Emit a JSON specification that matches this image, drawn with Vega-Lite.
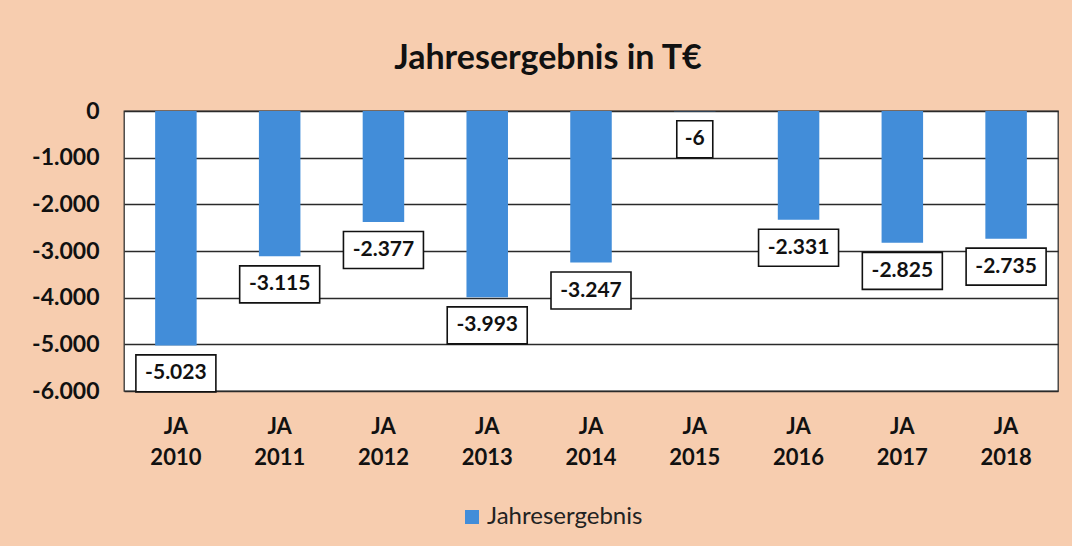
{
  "$schema": "https://vega.github.io/schema/vega-lite/v6.json",
  "autosize": {"type": "none"},
  "width": 934,
  "height": 280,
  "padding": {"left": 124, "top": 111, "right": 14, "bottom": 155},
  "background": "#F7CDAF",
  "title": {
    "text": "Jahresergebnis in T€",
    "font": "Lato",
    "fontSize": 34,
    "fontWeight": "bold",
    "color": "#111111",
    "anchor": "middle",
    "frame": "group",
    "dx": -43,
    "offset": 24
  },
  "config": {
    "locale": {"number": {"decimal": ",", "thousands": ".", "grouping": [3], "currency": ["", " €"], "minus": "-"}},
    "view": {"fill": "white", "stroke": "#333333", "strokeWidth": 1.3},
    "font": "Lato"
  },
  "data": {
    "values": [
      {"year": "2010", "value": -5023},
      {"year": "2011", "value": -3115},
      {"year": "2012", "value": -2377},
      {"year": "2013", "value": -3993},
      {"year": "2014", "value": -3247},
      {"year": "2015", "value": -6},
      {"year": "2016", "value": -2331},
      {"year": "2017", "value": -2825},
      {"year": "2018", "value": -2735}
    ]
  },
  "encoding": {
    "x": {
      "field": "year",
      "type": "nominal",
      "sort": null,
      "scale": {"paddingInner": 0.6, "paddingOuter": 0.3},
      "axis": {
        "title": null,
        "labelAngle": 0,
        "domain": false,
        "ticks": false,
        "labelExpr": "['JA', datum.value]",
        "labelFont": "Lato",
        "labelFontSize": 22,
        "labelFontWeight": "bold",
        "labelColor": "#111111",
        "labelPadding": 25,
        "labelLineHeight": 31
      }
    },
    "y": {
      "field": "value",
      "type": "quantitative",
      "scale": {"domain": [-6000, 0], "nice": false},
      "axis": {
        "title": null,
        "values": [-6000, -5000, -4000, -3000, -2000, -1000, 0],
        "format": ",d",
        "domain": false,
        "ticks": false,
        "grid": true,
        "gridColor": "#2a2a2a",
        "gridWidth": 1.4,
        "labelFont": "Lato",
        "labelFontSize": 23,
        "labelFontWeight": "bold",
        "labelColor": "#111111",
        "labelPadding": 25
      }
    }
  },
  "layer": [
    {
      "mark": {"type": "bar"},
      "encoding": {
        "y2": {"datum": 0},
        "color": {
          "datum": "Jahresergebnis",
          "scale": {"range": ["#428DD9"]},
          "legend": {
            "title": null,
            "orient": "none",
            "legendX": 336,
            "legendY": 394,
            "symbolType": "square",
            "symbolSize": 196,
            "labelFont": "Lato",
            "labelFontSize": 24,
            "labelColor": "#222222",
            "labelOffset": 3
          }
        }
      }
    },
    {
      "mark": {"type": "point", "filled": true, "fill": "white", "stroke": "#111111", "strokeWidth": 1.6, "opacity": 1, "size": 1600, "yOffset": 28},
      "encoding": {
        "shape": {
          "condition": {"test": "datum.value > -1000", "value": "M-0.9,-0.925H0.9V0.925H-0.9Z"},
          "value": "M-2,-0.925H2V0.925H-2Z"
        }
      }
    },
    {
      "mark": {"type": "text", "font": "Lato", "fontSize": 21, "fontWeight": "bold", "color": "#111111", "baseline": "middle", "align": "center", "yOffset": 28},
      "encoding": {
        "text": {"field": "value", "type": "quantitative", "format": ",d"}
      }
    }
  ]
}
